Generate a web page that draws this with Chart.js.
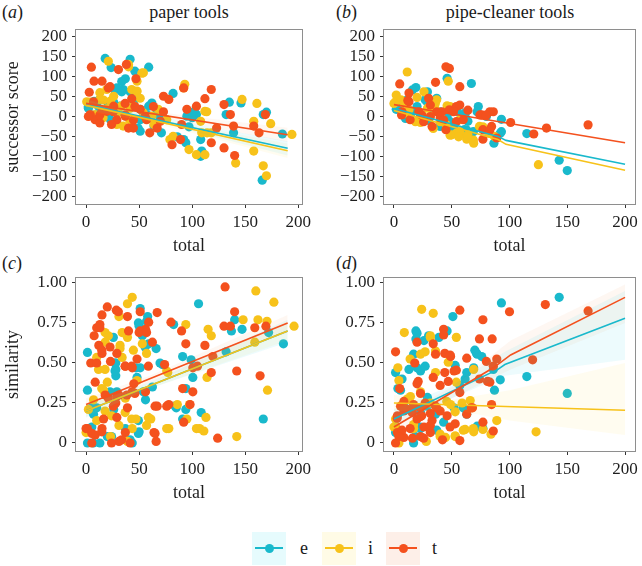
<!DOCTYPE html>
<html><head><meta charset="utf-8">
<script src="https://cdn.jsdelivr.net/npm/chart.js@4.4.1/dist/chart.umd.min.js"></script>
<style>
body{margin:0;background:#fff;width:642px;height:566px;position:relative;overflow:hidden;font-family:"Liberation Serif","Times New Roman",serif;color:#1a1a1a}
.cv{position:absolute}
.lab{position:absolute;font-size:18px;line-height:18px;white-space:nowrap}
.ctr{transform:translateX(-50%)}
.key{position:absolute;width:34px;height:33px}
.kl{position:absolute;height:2px}
.kd{position:absolute;width:9px;height:9px;border-radius:50%}
</style></head><body>
<div class="lab" style="left:2px;top:3px">(<i>a</i>)</div>
<div class="lab ctr" style="left:189px;top:3px">paper tools</div>
<div class="lab" style="left:336px;top:3px">(<i>b</i>)</div>
<div class="lab ctr" style="left:510px;top:3px">pipe-cleaner tools</div>
<div class="lab" style="left:2px;top:254px">(<i>c</i>)</div>
<div class="lab" style="left:336px;top:254px">(<i>d</i>)</div>

<canvas id="ca" class="cv" style="left:0;top:0" width="321" height="262"></canvas>
<canvas id="cb" class="cv" style="left:321px;top:0" width="321" height="262"></canvas>
<canvas id="cc" class="cv" style="left:0;top:250px" width="321" height="262"></canvas>
<canvas id="cd" class="cv" style="left:321px;top:250px" width="321" height="262"></canvas>

<div id="legend"></div>

<script>
// ---------- categories ----------
const groups = ['e', 'i', 't'];
const xTicks = [0, 50, 100, 150, 200];
const scoreTicks = [-200, -150, -100, -50, 0, 50, 100, 150, 200];
const simTicks = [0, 0.25, 0.5, 0.75, 1];

// ---------- (a) paper tools: successor score vs total ----------
const aE = [[18,146],[41.5,144],[23.6,123],[59,124],[46,114],[37,95],[29,72],[35,68],[62,34],[59,26],[2,24],[7.5,38],[13,43],[26,34],[32,26],[51,18],[57,5],[49,-29],[51,-37],[64,-24],[71,-41],[82,58],[86,-51],[92,-58],[94,-66],[102,13],[104,5],[100,-3],[97,-26],[108,-58],[109,-87],[108,-100],[132,5],[135,36],[146,34],[139,-41],[170,11],[167,5],[185,-44],[166,-160],[95,1],[13,18],[19,5],[38,1],[23,-8],[29,-16],[70,-8],[51,-8],[33.6,88],[27,67],[33.6,62],[41.5,62],[2.2,21],[21,29],[25.7,37],[30.4,21],[66.6,8],[101,4],[10,30],[45,40]];
const aI = [[21,139],[40,131],[54,110],[48,89],[43,68],[48,64],[19.5,68],[4,36],[13,43],[23,39],[33,26],[45,26],[93,81],[92,72],[82,-50],[79,-58],[108,-12],[112,13],[109,-41],[114,-41],[118,-41],[112,-96],[104,-96],[97,-83],[147,43],[161,33],[158,-12],[174,-18],[158,-87],[167,-124],[170,-149],[194,-45],[141,-117],[64,-20],[35,-24],[29,-20],[8.5,5],[16,-3],[54,9],[62,1],[41,-8],[26,51],[13,60],[76,-8],[68,18],[40,125],[52.5,109],[47.8,62],[51,46],[0.6,37],[16.3,41.5],[41.5,21],[113.7,12],[20,20],[30,10]];
const aT = [[5,124],[7.5,89],[3,61],[4,5],[15,89],[21,72],[30.5,118],[38,131],[47,95],[43,45],[26,26],[15,13],[8.5,-8],[19.5,13],[29,-8],[37,1],[40,-29],[44.6,-29],[51,18],[60,-41],[67,-29],[73,51],[78,43],[81,-71],[89,-58],[92,72],[95,18],[104,26],[112,45],[118,68],[123,-29],[118,-66],[130,-79],[130,30],[136,5],[139,-24],[140,-98],[158,-24],[163,-41],[169,5],[90,-20],[70,-12],[57,-8],[24,-20],[13,-16],[22.6,75],[7,37],[46,25],[63.5,25],[2.2,0],[13,4],[25.7,12],[36.8,4],[44.6,-9],[55.6,0],[72.9,12],[36.8,33]];
const aFitE = [[0,30],[190,-80]];
const aFitI = [[0,28],[190,-86]];
const aFitT = [[0,33],[190,-46]];
const aBandE = [[0,16,44],[60,-9,3],[120,-50,-28],[190,-98,-62]];
const aBandI = [[0,14,42],[60,-14,-2],[120,-55,-33],[190,-104,-68]];
const aBandT = [[0,20,46],[60,2,14],[120,-28,-6],[190,-64,-28]];

// ---------- (b) pipe-cleaner tools: successor score vs total ----------
const bE = [[67,83],[46,96],[19,73],[16,67],[29,62],[37,46],[11.5,42],[2,18],[8.6,4],[20,25],[27,42],[34,17],[40,-25],[52,-25],[55,12],[62,10],[61,-33],[73,25],[72,12],[80,0],[93,-7],[92,-42],[86.5,-67],[115,-43],[143,-110],[150,-136],[4,29],[23,0],[46,0],[64,-12],[14.3,4],[20,16],[10,-5],[28.6,37],[48.6,-13],[61.5,0],[50,-30],[63,-34],[68.7,-38],[93,-38],[40,12],[30,-10]];
const bI = [[11.5,112],[47,89],[2,54],[1.4,37],[6,42],[20,48],[26,62],[13,17],[23,-15],[36,17],[37,42],[46,27],[50,-46],[54,-42],[63,-57],[64,-46],[69,-67],[74,-25],[82,-42],[87,-50],[125,-121],[29,21],[40,4],[57,-8],[11.5,8],[31.5,0],[24.3,4],[18.6,-13],[35.8,33],[40,-13],[48.6,25],[57,-38],[77,-26],[68.7,-59],[63,-51],[56,-51],[48.6,-47],[34,-30],[8.6,33],[0,33],[45,-20]];
const bT = [[5,82],[36,86],[45,125],[48,121],[57,75],[13,59],[12,40],[6.6,4],[14,-8],[24,4],[33,-25],[37,12],[40,-4],[45,-33],[48,17],[54,25],[57,29],[60,-8],[77,-33],[77,-57],[76,4],[83,12],[86,12],[84.5,-25],[89,-54],[101,-15],[121,-44],[132,-29],[168,-21],[30,46],[21.5,12],[7,12],[13,37],[31.5,0],[41.5,12],[51.5,12],[54,-13],[43,-9],[64,16],[74.4,4],[80,4],[83,-34],[25.7,-13],[31.5,29]];
const bFitE = [[0,20],[90,-50],[97,-60],[200,-120]];
const bFitI = [[0,15],[90,-58],[97,-70],[200,-135]];
const bFitT = [[0,30],[60,2],[200,-66]];

// ---------- (c) paper tools: similarity vs total ----------
const cE = [[1.3,0.566],[1.3,0.33],[5.4,0.22],[1.3,0.00],[7,0.18],[5.4,0.10],[13,0.00],[20,0.04],[28,0.50],[28,0.46],[28,0.42],[29,0.32],[26,0.21],[37,0.09],[43.5,0.00],[48,0.41],[47,0.47],[51,0.84],[50,0.73],[53,0.67],[58,0.79],[59,0.62],[66,0.59],[62.5,0.35],[56,0.27],[50,0.07],[72,0.49],[85,0.22],[91,0.54],[94,0.34],[94,0.21],[91,0.15],[100.6,0.41],[99,0.52],[106,0.87],[108.5,0.19],[82.5,0.74],[132,0.57],[137,0.70],[147,0.71],[167,0.15],[172,0.69],[186,0.62],[140,0.77],[49.3,0.75],[57,0.76],[25.7,0.66],[55.6,0.60],[27.3,0.50],[27.3,0.45],[51,0.47],[69.7,0.50],[22.6,0.32],[54,0.32],[84,0.23],[10,0.22],[49.3,0.14],[24,0.04],[41.5,0.02],[49.3,0.06],[6.9,0.0]];
const cI = [[43.5,0.91],[39,0.87],[31,0.79],[39,0.66],[32,0.61],[34,0.69],[18,0.63],[21,0.67],[10,0.535],[11.7,0.46],[7,0.27],[0,0.065],[10,0.14],[16.5,0.33],[20,0.38],[24,0.17],[31,0.11],[37,0.28],[39,0.01],[43.5,0.09],[48,0.39],[53,0.62],[57,0.56],[57,0.11],[61,0.15],[34,0.535],[47,0.15],[77,0.44],[78,0.09],[94,0.74],[86,0.24],[97.5,0.24],[107,0.09],[113,0.16],[115,0.71],[118,0.67],[114,0.41],[142,0.04],[148,0.77],[160,0.95],[159,0.63],[162,0.77],[170.5,0.76],[171,0.33],[177,0.88],[196,0.73],[111,0.075],[23,0.04],[17.9,0.69],[32,0.59],[44.6,0.58],[17.9,0.46],[76,0.45],[14.8,0.34],[2.2,0.21],[17.9,0.20],[36.8,0.19],[43,0.15],[58.7,0.16],[76,0.09],[95,0.15],[104,0.09]];
const cT = [[20,0.85],[15,0.80],[10,0.72],[13,0.72],[7.6,0.67],[12,0.61],[4.4,0.50],[15,0.56],[8.6,0.38],[23,0.51],[29,0.56],[28.5,0.83],[39,0.79],[37,0.48],[43.5,0.47],[48,0.525],[50,0.69],[56,0.71],[59,0.755],[67,0.815],[62.5,0.63],[45,0.37],[43.5,0.32],[39,0.22],[31,0.30],[28,0.25],[29,0.16],[18,0.30],[16.5,0.15],[15,0.09],[8.6,0.05],[5.4,0.00],[1.3,0.09],[31,0.01],[37,0.065],[64,0.065],[66,0.01],[56,0.32],[67,0.23],[78,0.24],[74,0.49],[80,0.755],[90,0.70],[94,0.62],[91,0.34],[100.6,0.32],[98,0.24],[92,0.13],[100.6,0.47],[105,0.48],[112,0.61],[118,0.44],[119.5,0.54],[124,0.03],[131,0.975],[130,0.73],[136,0.73],[140,0.82],[142,0.45],[159,0.72],[164,0.42],[169.5,0.73],[30.4,0.82],[51,0.82],[13,0.74],[40,0.70],[51,0.70],[57,0.69],[14.8,0.58],[22.6,0.60],[10,0.50],[36.8,0.48],[43,0.48],[58.7,0.48],[21,0.28],[28.9,0.29],[38.4,0.30],[46,0.31],[65,0.23],[76,0.23],[25.7,0.23],[65,0.06],[0,0.09],[5.4,0.06],[14.8,0.07],[33.6,0.02],[24,0.0],[41.5,0]];
const cFitE = [[0,0.20],[190,0.70]];
const cFitI = [[0,0.20],[190,0.70]];
const cFitT = [[0,0.24],[190,0.75]];
const cBandE = [[0,0.16,0.24],[60,0.34,0.38],[190,0.63,0.77]];
const cBandI = [[0,0.165,0.235],[60,0.34,0.375],[190,0.64,0.76]];
const cBandT = [[0,0.20,0.28],[60,0.38,0.42],[190,0.69,0.80]];

// ---------- (d) pipe-cleaner tools: similarity vs total ----------
const dE = [[93,0.875],[143,0.91],[51,0.79],[46,0.70],[19,0.70],[19,0.65],[26,0.64],[30,0.67],[39,0.66],[1.4,0.44],[3.4,0.34],[7,0.40],[13,0.46],[17,0.555],[23,0.45],[29,0.285],[8.6,0.23],[1.4,0.065],[17,0.00],[23,0.09],[36,0.18],[43,0.13],[53,0.485],[61.6,0.40],[69,0.47],[70,0.58],[72,0.555],[86,0.46],[87,0.33],[92,0.395],[115,0.415],[150,0.31],[63,0.18],[52,0.22],[72,0.105],[23,0.19],[71.5,0.56],[76,0.54],[20,0.47],[27,0.48],[63,0.44],[57,0.36],[5.7,0.33],[28.6,0.23],[60,0.22],[23,0.10],[37,0.08],[77,0.09],[18.6,0.04],[20,0.685]];
const dI = [[24,0.835],[34,0.81],[9,0.69],[31.5,0.67],[54,0.66],[3.4,0.47],[4.3,0.39],[14,0.525],[23,0.555],[27,0.57],[36,0.575],[47,0.505],[36,0.44],[11.5,0.275],[23,0.32],[1.4,0.15],[1.4,0.105],[4.3,0.00],[28,0.01],[40,0.055],[44.6,0.035],[53,0.045],[61.6,0.085],[69,0.07],[69,0.46],[66,0.265],[54,0.38],[49,0.24],[59,0.25],[77,0.085],[84,0.055],[89,0.14],[123,0.07],[17,0.115],[31.5,0.25],[14.3,0.29],[45.7,0.26],[53,0.195],[0,0.10],[17,0.09],[60,0.08],[68.7,0.09],[40,0.04],[53,0.04],[31.5,0.66]];
const dT = [[57,0.83],[77,0.77],[74,0.65],[85,0.65],[100,0.82],[131,0.865],[168,0.825],[120,0.52],[1.4,0.57],[20,0.63],[34,0.62],[36,0.555],[43,0.71],[44,0.56],[49,0.54],[63,0.53],[18,0.50],[52,0.45],[44,0.44],[47,0.385],[21,0.385],[34,0.41],[5,0.34],[54,0.455],[57,0.315],[63,0.18],[68,0.22],[74,0.40],[81,0.385],[84.5,0.24],[89,0.525],[77,0.13],[86,0.075],[5.7,0.23],[11.5,0.21],[16,0.21],[23,0.22],[27,0.25],[36,0.23],[40,0.20],[46,0.17],[20,0.15],[24,0.17],[3,0.17],[3,0.065],[8.6,0.035],[16,0.03],[23,0.04],[31.5,0.065],[42,0.02],[57,0.015],[1.4,0.00],[33,0.14],[53,0.12],[14,0.09],[26,0.10],[48.6,0.55],[80,0.51],[86,0.48],[20,0.37],[40,0.36],[83,0.38],[23,0.31],[8.6,0.26],[17,0.24],[8.6,0.20],[15.7,0.19],[23,0.165],[31.5,0.185],[37,0.22],[67,0.22],[2.8,0.155],[7,0.08],[31.5,0.11],[48.6,0.10],[4.3,0.04],[25.7,0.03],[43,0.675]];
const dFitE = [[0,0.15],[90,0.46],[96,0.49],[200,0.78]];
const dFitI = [[0,0.25],[200,0.205]];
const dFitT = [[0,0.10],[86,0.47],[101,0.55],[200,0.91]];
const dBandE = [[0,0.10,0.21],[50,0.28,0.36],[96,0.42,0.57],[200,0.52,0.95]];
const dBandI = [[0,0.20,0.30],[50,0.21,0.27],[100,0.14,0.33],[200,0.05,0.50]];
const dBandT = [[0,0.06,0.15],[50,0.28,0.35],[101,0.46,0.64],[200,0.75,0.99]];

// ---------- styles ----------
const COL = {e:'#19b9cc', i:'#f7c21a', t:'#f4511e'};
const BAND = {e:'rgba(25,200,225,0.08)', i:'rgba(250,215,40,0.07)', t:'rgba(244,120,40,0.06)'};
const KEYBG = {e:'#e6fbfd', i:'#fffbe6', t:'#fdefe8'};
const FONT = '"Liberation Serif", "Times New Roman", serif';

const xy = arr => arr.map(p => ({x:p[0], y:p[1]}));
const fmtScore = v => v < 0 ? '\u2212' + Math.abs(v) : String(v);
const fmtSim = v => v === 0 ? '0' : v.toFixed(2);

const boxPlugin = {
  id: 'panelBox',
  afterDatasetsDraw(chart) {
    const a = chart.chartArea, c = chart.ctx;
    c.save(); c.strokeStyle = '#8e8e8e'; c.lineWidth = 1;
    c.strokeRect(Math.round(a.left) - 0.5, Math.round(a.top) - 0.5, Math.round(a.right - a.left) + 1, Math.round(a.bottom - a.top) + 1);
    c.restore();
  }
};

function makePanel(id, p) {
  const ds = [];
  groups.forEach(g => {
    const band = p.bands && p.bands[g];
    if (band) {
      ds.push({data: band.map(r => ({x:r[0], y:r[2]})), showLine:true, borderWidth:0, pointRadius:0, fill:'+1', backgroundColor:BAND[g], borderColor:'rgba(0,0,0,0)', order:3});
      ds.push({data: band.map(r => ({x:r[0], y:r[1]})), showLine:true, borderWidth:0, pointRadius:0, fill:false, borderColor:'rgba(0,0,0,0)', order:3});
    }
  });
  const lineOrder = {e:1.3, i:1.2, t:1.1};
  groups.forEach(g => {
    ds.push({data: xy(p.fits[g]), showLine:true, borderColor:COL[g], borderWidth:1.6, pointRadius:0, fill:false, tension:0, order:lineOrder[g]});
  });
  const ptOrder = {e:6, i:5, t:4};
  groups.forEach(g => {
    ds.push({data: xy(p.pts[g]), showLine:false, pointRadius:4.6, pointBorderWidth:0, pointBackgroundColor:COL[g], pointBorderColor:COL[g], borderColor:COL[g], fill:false, clip:false, order:ptOrder[g]});
  });

  new Chart(document.getElementById(id), {
    type: 'line',
    data: {datasets: ds},
    plugins: [boxPlugin],
    options: {
      responsive:false, animation:false, events:[],
      layout: {padding: {left:0, top:p.padTop, right:p.padRight, bottom:0}},
      plugins: {legend:{display:false}, tooltip:{enabled:false}, title:{display:false}},
      scales: {
        x: {
          type:'linear', min:p.xMin, max:p.xMax,
          afterBuildTicks: s => { s.ticks = xTicks.map(v => ({value:v})); },
          afterFit: s => { s.height = p.xH; },
          ticks: {autoSkip:false, maxRotation:0, padding:4, color:'#1e1e1e', font:{family:FONT, size:17}, callback: v => String(v)},
          grid: {drawOnChartArea:false, drawTicks:true, tickLength:4, tickColor:'#333', tickWidth:1},
          border: {display:false},
          title: {display:true, text:'total', color:'#1e1e1e', font:{family:FONT, size:18}, padding:{top:0, bottom:p.xTitlePad}}
        },
        y: {
          type:'linear', min:p.yMin, max:p.yMax,
          afterBuildTicks: s => { s.ticks = p.yTicks.map(v => ({value:v})); },
          afterFit: s => { s.width = p.yW; },
          ticks: {autoSkip:false, padding:5, color:'#1e1e1e', font:{family:FONT, size:17}, callback: p.fmt},
          grid: {drawOnChartArea:false, drawTicks:true, tickLength:4, tickColor:'#333', tickWidth:1},
          border: {display:false},
          title: {display:!!p.yTitle, text:p.yTitle || '', color:'#1e1e1e', font:{family:FONT, size:18}, padding:{top:2, bottom:0}}
        }
      }
    }
  });
}

const scoreY = {yMin:-220, yMax:217.6, yTicks:scoreTicks, fmt:fmtScore};
const simY = {yMin:-0.05, yMax:1.031, yTicks:simTicks, fmt:fmtSim};

makePanel('ca', Object.assign({}, scoreY, {xMin:-9.5, xMax:203.5, yW:76, padRight:19, padTop:30, xH:58, xTitlePad:5, yTitle:'successor score',
  pts:{e:aE, i:aI, t:aT}, fits:{e:aFitE, i:aFitI, t:aFitT}, bands:{e:aBandE, i:aBandI, t:aBandT}}));
makePanel('cb', Object.assign({}, scoreY, {xMin:-8.6, xMax:208.6, yW:63, padRight:5, padTop:30, xH:58, xTitlePad:5, yTitle:'',
  pts:{e:bE, i:bI, t:bT}, fits:{e:bFitE, i:bFitI, t:bFitT}, bands:null}));
makePanel('cc', Object.assign({}, simY, {xMin:-9.5, xMax:203.5, yW:76, padRight:19, padTop:28, xH:61, xTitlePad:8, yTitle:'similarity',
  pts:{e:cE, i:cI, t:cT}, fits:{e:cFitE, i:cFitI, t:cFitT}, bands:{e:cBandE, i:cBandI, t:cBandT}}));
makePanel('cd', Object.assign({}, simY, {xMin:-8.6, xMax:208.6, yW:63, padRight:5, padTop:28, xH:61, xTitlePad:8, yTitle:'',
  pts:{e:dE, i:dI, t:dT}, fits:{e:dFitE, i:dFitI, t:dFitT}, bands:{e:dBandE, i:dBandI, t:dBandT}}));

// ---------- legend ----------
const legendPos = {e:{box:252, label:300}, i:{box:322, label:368}, t:{box:386, label:432}};
const leg = document.getElementById('legend');
groups.forEach(g => {
  const L = legendPos[g];
  leg.insertAdjacentHTML('beforeend',
    `<div class="key" style="left:${L.box}px;top:532px;background:${KEYBG[g]}"></div>` +
    `<div class="kl" style="left:${L.box+3}px;top:547px;width:28px;background:${COL[g]}"></div>` +
    `<div class="kd" style="left:${L.box+12.5}px;top:543.5px;background:${COL[g]}"></div>` +
    `<div class="lab" style="left:${L.label}px;top:539px">${g}</div>`);
});
</script>
</body></html>
